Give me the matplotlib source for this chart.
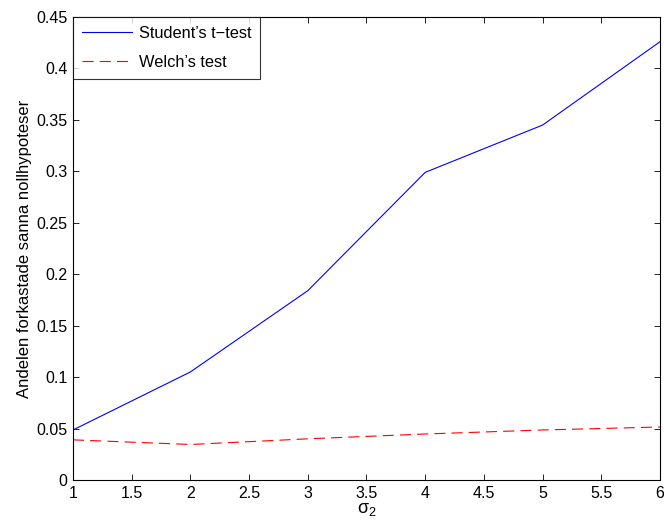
import matplotlib
matplotlib.use("Agg")
import matplotlib.pyplot as plt

plt.rcParams['font.family'] = ['Liberation Sans', 'DejaVu Sans']
plt.rcParams['mathtext.fontset'] = 'custom'
plt.rcParams['mathtext.rm'] = 'Liberation Sans'
plt.rcParams['mathtext.it'] = 'Liberation Sans'

sigma2 = [1, 2, 3, 4, 5, 6]
student = [0.0486, 0.105, 0.184, 0.299, 0.345, 0.426]
welch = [0.039, 0.0345, 0.040, 0.0447, 0.0486, 0.0515]
xticks = [1, 1.5, 2, 2.5, 3, 3.5, 4, 4.5, 5, 5.5, 6]
yticks = [0, 0.05, 0.1, 0.15, 0.2, 0.25, 0.3, 0.35, 0.4, 0.45]

fig = plt.figure(figsize=(6.64, 5.22), dpi=100)
ax = fig.add_axes([0.1099, 0.0805, 0.8841, 0.8869])
ax.plot(sigma2, student, color='#0000ff', lw=0.8, label="Student\u2019s t\u2212test")
ax.plot(sigma2, welch, color='#ff0000', lw=0.8, ls=(0, (10, 5.5)), label="Welch\u2019s test")
ax.set_xlim(1, 6)
ax.set_ylim(0, 0.45)
ax.set_xticks(xticks)
ax.set_xticklabels([f"{t:g}" for t in xticks])
ax.set_yticks(yticks)
ax.set_yticklabels([f"{t:g}" for t in yticks])
ax.tick_params(direction='in', top=True, right=True, labelsize=11.5, length=4, width=0.6, pad=4)
for s in ax.spines.values():
    s.set_linewidth(0.8)
ax.set_xlabel(r'$\sigma_2$', fontsize=13, labelpad=0)
ax.set_ylabel('Andelen forkastade sanna nollhypoteser', fontsize=12, labelpad=3)
leg = ax.legend(loc='upper left', fontsize=11.8, frameon=True, fancybox=False,
                edgecolor='black', borderaxespad=0, handlelength=3.05,
                handletextpad=0.4, borderpad=0.55, labelspacing=0.85)
leg.get_frame().set_linewidth(0.8)
fig.savefig('out.png', dpi=100)
